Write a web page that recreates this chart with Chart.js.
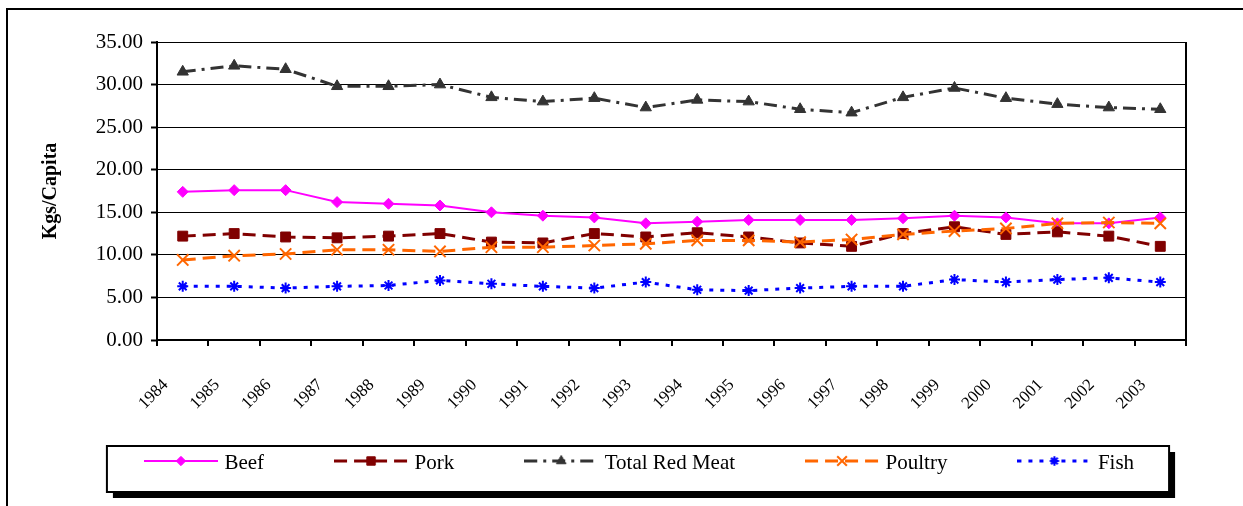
<!DOCTYPE html>
<html>
<head>
<meta charset="utf-8">
<script src="https://cdn.jsdelivr.net/npm/chart.js@4.4.1/dist/chart.umd.min.js"></script>
<style>
  html, body { margin: 0; padding: 0; background: #fff; overflow: hidden; }
  #frame { position: absolute; left: 6px; top: 8px; width: 1300px; height: 600px; border: 2px solid #000; }
  #wrap { position: absolute; left: 0; top: 0; width: 1243px; height: 506px; }
</style>
</head>
<body>
<div id="frame"></div>
<div id="wrap"><canvas id="chart" width="1243" height="506"></canvas></div>
<script>
const years = ['1984', '1985', '1986', '1987', '1988', '1989', '1990', '1991', '1992', '1993',
               '1994', '1995', '1996', '1997', '1998', '1999', '2000', '2001', '2002', '2003'];
const beef = [17.4, 17.6, 17.6, 16.2, 16.0, 15.8, 15.0, 14.6, 14.4, 13.7,
              13.9, 14.1, 14.1, 14.1, 14.3, 14.6, 14.4, 13.7, 13.7, 14.4];
const pork = [12.2, 12.5, 12.1, 12.0, 12.2, 12.5, 11.5, 11.4, 12.5, 12.1,
              12.6, 12.1, 11.4, 11.0, 12.5, 13.3, 12.4, 12.7, 12.2, 11.0];
const totalRedMeat = [31.5, 32.2, 31.8, 29.8, 29.8, 30.0, 28.5, 28.0, 28.4, 27.3,
                      28.2, 28.0, 27.1, 26.7, 28.5, 29.6, 28.4, 27.7, 27.3, 27.1];
const poultry = [9.4, 9.9, 10.1, 10.6, 10.6, 10.4, 10.9, 10.9, 11.1, 11.3,
                 11.7, 11.7, 11.5, 11.8, 12.4, 12.8, 13.1, 13.7, 13.8, 13.7];
const fish = [6.3, 6.3, 6.1, 6.3, 6.4, 7.0, 6.6, 6.3, 6.1, 6.8,
              5.9, 5.8, 6.1, 6.3, 6.3, 7.1, 6.8, 7.1, 7.3, 6.8];
const yTickLabels = ['0.00', '5.00', '10.00', '15.00', '20.00', '25.00', '30.00', '35.00'];

const serif = "'Liberation Serif', 'Times New Roman', serif";

// series look (Excel style)
const series = [
    { label: 'Beef', data: beef, color: '#FF00FF', width: 2, dash: [], point: 'rectRot', radius: 5.5, pw: 1, order: 5 },
    { label: 'Pork', data: pork, color: '#800000', width: 3, dash: [13, 7], point: 'rect', radius: 7, pw: 1, order: 4 },
    { label: 'Total Red Meat', data: totalRedMeat, color: '#333333', width: 3, dash: [13, 6, 3, 6], point: 'triangle', radius: 6.5, pw: 1, order: 3 },
    { label: 'Poultry', data: poultry, color: '#FF6600', width: 3, dash: [13, 7], point: 'crossRot', radius: 8, pw: 2, order: 2 },
    { label: 'Fish', data: fish, color: '#0000FF', width: 3, dash: [4, 7], point: 'star', radius: 5.5, pw: 2, order: 1 }
];

// little canvas with line + marker for the legend
function legendIcon(s) {
    const c = document.createElement('canvas');
    c.width = 74; c.height = 16;
    const g = c.getContext('2d');
    g.strokeStyle = s.color;
    g.lineWidth = s.width;
    g.setLineDash(s.dash);
    g.beginPath();
    g.moveTo(0, 6);
    g.lineTo(74, 6);
    g.stroke();
    g.setLineDash([]);
    g.fillStyle = s.color;
    g.lineWidth = s.pw;
    Chart.helpers.drawPoint(g, { pointStyle: s.point, radius: s.radius * 0.85, rotation: 0, borderWidth: s.pw }, 37, 6);
    return c;
}
const icons = series.map(legendIcon);

const legendPad = 74;

const legendFrame = {
    id: 'legendFrame',
    afterInit(chart) {
        // keep the legend block small, its text spot is set in afterLayout
        const lg = chart.legend;
        const fit = lg.fit.bind(lg);
        lg.fit = function () { fit(); this.height = 96; };
    },
    afterLayout(chart) {
        const lg = chart.legend;
        lg.left = 39;
        lg.right = 1243;
        lg.top = 378.5;
    },
    beforeDatasetsDraw(chart) {
        const { ctx, chartArea } = chart;
        ctx.save();
        ctx.strokeStyle = '#000';
        ctx.lineWidth = 2;
        ctx.beginPath();
        ctx.moveTo(chartArea.right, chartArea.top);
        ctx.lineTo(chartArea.right, chartArea.bottom);
        ctx.stroke();
        ctx.restore();
    },
    afterDraw(chart) {
        const boxes = chart.legend.legendHitBoxes;
        if (!boxes || !boxes.length) return;
        const first = boxes[0], last = boxes[boxes.length - 1];
        const cy = first.top + first.height / 2;
        const x1 = first.left - 41, x2 = last.left + last.width + 35;
        const y1 = cy - 17, y2 = cy + 29;
        const { ctx } = chart;
        ctx.save();
        ctx.fillStyle = '#000';
        ctx.fillRect(x1 + 6, y1 + 6, x2 - x1, y2 - y1);
        ctx.fillStyle = '#fff';
        ctx.fillRect(x1, y1, x2 - x1, y2 - y1);
        ctx.strokeStyle = '#000';
        ctx.lineWidth = 2;
        ctx.strokeRect(x1, y1, x2 - x1, y2 - y1);
        ctx.restore();
        // redraw legend on top of the white box
        chart.legend.draw();
    }
};

const ctx = document.getElementById('chart').getContext('2d');

new Chart(ctx, {
    type: 'line',
    data: {
        labels: years,
        datasets: series.map(s => ({
            label: s.label,
            data: s.data,
            borderColor: s.color,
            backgroundColor: s.color,
            borderWidth: s.width,
            borderDash: s.dash,
            pointStyle: s.point,
            pointRadius: s.radius,
            pointHoverRadius: s.radius,
            pointBorderWidth: s.pw,
            pointBorderColor: s.color,
            pointBackgroundColor: s.color,
            tension: 0,
            fill: false,
            order: s.order
        }))
    },
    options: {
        responsive: false,
        animation: false,
        layout: {
            padding: { top: 42, right: 57, bottom: 0, left: 0 }
        },
        plugins: {
            legend: {
                position: 'bottom',
                labels: {
                    usePointStyle: true,
                    pointStyleWidth: 66,
                    padding: legendPad,
                    color: '#000',
                    font: { family: serif, size: 21 },
                    generateLabels: () => series.map((s, i) => ({
                        text: s.label,
                        pointStyle: icons[i],
                        datasetIndex: i,
                        hidden: false,
                        lineWidth: 0,
                        fillStyle: s.color,
                        strokeStyle: s.color,
                        fontColor: '#000'
                    }))
                }
            },
            tooltip: { enabled: false }
        },
        scales: {
            x: {
                offset: true,
                afterFit: (scale) => { scale.height = 70; },
                grid: {
                    offset: true,
                    drawOnChartArea: false,
                    drawTicks: true,
                    tickLength: 6,
                    color: '#000',
                    lineWidth: 2
                },
                border: { display: true, color: '#000', width: 2 },
                ticks: {
                    autoSkip: false,
                    minRotation: 45,
                    maxRotation: 45,
                    labelOffset: -17,
                    padding: 29,
                    color: '#000',
                    font: { family: serif, size: 17 }
                }
            },
            y: {
                min: 0,
                max: 35,
                afterFit: (scale) => { scale.width = 157; },
                grid: {
                    color: '#000',
                    lineWidth: 1,
                    tickLength: 6,
                    tickWidth: 2,
                    tickColor: '#000'
                },
                border: { display: true, color: '#000', width: 2 },
                ticks: {
                    stepSize: 5,
                    padding: 8,
                    color: '#000',
                    font: { family: serif, size: 21 },
                    callback: (v) => yTickLabels[Math.round(v / 5)]
                },
                title: {
                    display: true,
                    text: 'Kgs/Capita',
                    color: '#000',
                    padding: { top: 39, bottom: 0 },
                    font: { family: serif, size: 20, weight: 'bold' }
                }
            }
        }
    },
    plugins: [legendFrame]
});
</script>
</body>
</html>
